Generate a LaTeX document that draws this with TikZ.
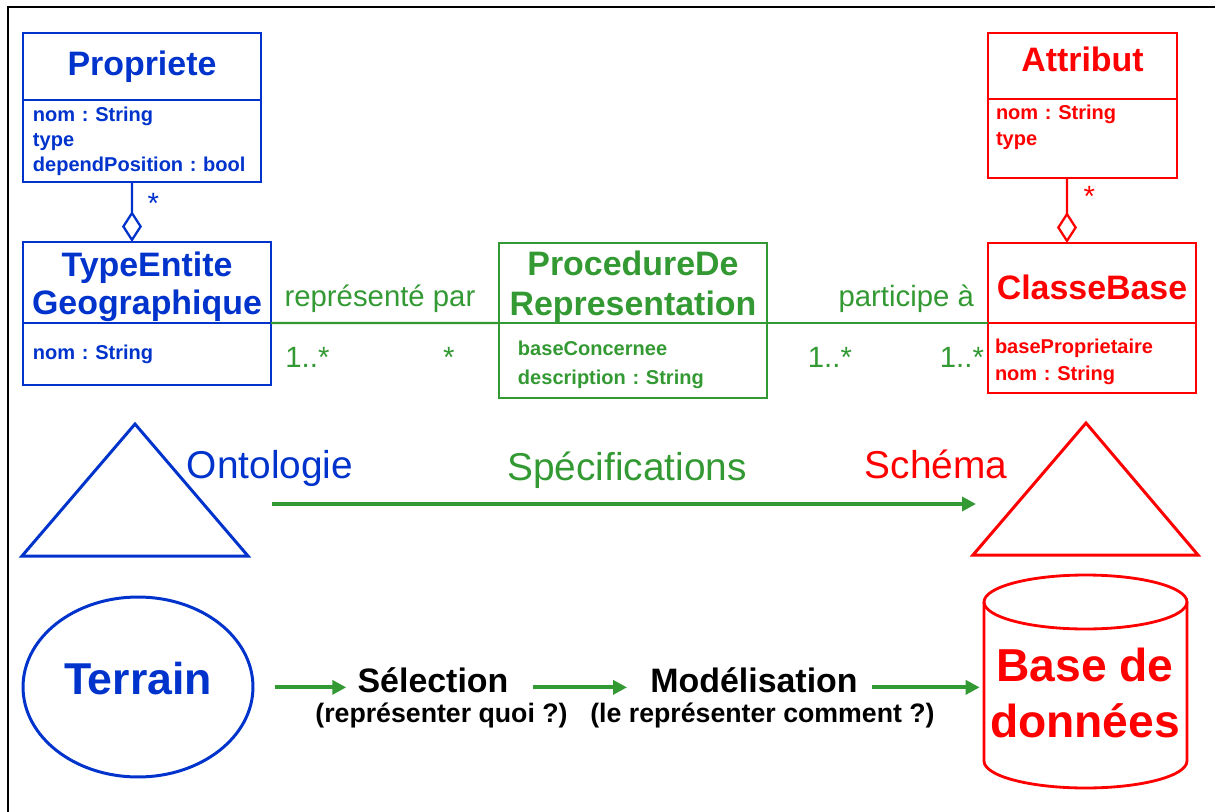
\documentclass[tikz,border=0pt]{standalone}
\usepackage{fontspec}
\setmainfont{Liberation Sans}
\usepackage{tikz}
\usetikzlibrary{shapes.geometric, arrows.meta, positioning}
\definecolor{ublue}{RGB}{0,51,204}
\definecolor{ugreen}{RGB}{51,153,51}
\definecolor{ured}{RGB}{255,0,0}
\frenchspacing

\begin{document}
\begin{tikzpicture}[
    x=0.02cm, y=-0.02cm,
    head/.style={rectangle, draw=#1, text=#1, line width=1.3pt, outer sep=0pt, inner sep=0pt, align=center, text depth=0.14cm, font=\fontsize{19.3}{21.5}\selectfont\bfseries},
    attr/.style={rectangle, draw=#1, text=#1, line width=1.3pt, outer sep=0pt, inner ysep=0pt, align=left, font=\fontsize{11.4}{14.2}\selectfont\bfseries},
    agg/.style={draw=#1, line width=1.3pt, -{Diamond[open, length=0.62cm, width=0.4cm]}},
    assoc/.style={draw=ugreen, line width=1.2pt},
    mult/.style={text=ugreen, inner sep=0pt, font=\fontsize{16.7}{20}\selectfont},
    big/.style={inner sep=0pt, anchor=base, font=\fontsize{22.1}{26}\selectfont},
    stepname/.style={inner sep=0pt, anchor=base, font=\fontsize{19.3}{23}\selectfont\bfseries},
    why/.style={inner sep=0pt, anchor=base, font=\fontsize{15.2}{18}\selectfont\bfseries},
    arr/.style={draw=ugreen, line width=2.4pt, -{Triangle[length=0.28cm, width=0.28cm]}},
]
\useasboundingbox (0,0) rectangle (1215,812);
\draw[line width=0.8pt] (8,812) -- (8,7) -- (1215,7);

% classes
\node[head=ublue, minimum width=4.76cm, minimum height=1.34cm, anchor=north west] (propriete) at (23,33) {Propriete};
\node[attr=ublue, minimum width=4.76cm, minimum height=1.64cm, inner xsep=0.2cm, text width=4.36cm, below=0pt of propriete] (proprieteattr) {nom : String\\type\\dependPosition : bool};

\node[head=ublue, minimum width=4.96cm, minimum height=1.62cm, anchor=north west, text height=1.42cm] (typeentite) at (23,242) {TypeEntite\\Geographique};
\node[attr=ublue, minimum width=4.96cm, minimum height=1.24cm, inner xsep=0.2cm, text width=4.56cm, below=0pt of typeentite] (typeentiteattr) {nom : String};

\node[head=ugreen, minimum width=5.36cm, minimum height=1.6cm, anchor=north west, text height=1.44cm, font=\fontsize{19.3}{22.7}\selectfont\bfseries] (procedure) at (499,243) {ProcedureDe\\Representation};
\node[attr=ugreen, minimum width=5.36cm, minimum height=1.5cm, inner xsep=0.38cm, text width=4.6cm, text height=0.45cm, below=0pt of procedure, font=\fontsize{11.4}{16.4}\selectfont\bfseries] (procedureattr) {baseConcernee\\description : String};

\node[head=ured, minimum width=3.78cm, minimum height=1.32cm, anchor=north west, text height=0.38cm] (attribut) at (988,33) {Attribut};
\node[attr=ured, minimum width=3.78cm, minimum height=1.58cm, inner xsep=0.16cm, text width=3.46cm, text depth=1.04cm, below=0pt of attribut, font=\fontsize{11.4}{14.7}\selectfont\bfseries] (attributattr) {nom : String\\type};

\node[head=ured, minimum width=4.16cm, minimum height=1.6cm, anchor=north west, text height=0.82cm] (classebase) at (988,243) {ClasseBase};
\node[attr=ured, minimum width=4.16cm, minimum height=1.4cm, inner xsep=0.14cm, text width=3.88cm, text height=0.45cm, below=0pt of classebase, font=\fontsize{11.4}{15.3}\selectfont\bfseries] (classebaseattr) {baseProprietaire\\nom : String};

% aggregations
\draw[agg=ublue] ([xshift=-0.2cm]proprieteattr.south) -- node[mult, text=ublue, pos=0.36, right=0.29cm] {*} ([xshift=-0.3cm]typeentite.north);
\draw[agg=ured] ([xshift=-0.31cm]attributattr.south) -- node[mult, text=ured, pos=0.28, right=0.31cm] {*} ([xshift=-0.5cm]classebase.north);

% associations
\draw[assoc] (typeentite.south east) -- node[mult, pos=0.478, above=0.18cm] {représenté par} node[mult, pos=0.16, below=0.46cm] {1..*} node[mult, pos=0.78, below=0.46cm] {*} (procedure.south west);
\draw[assoc] (procedure.south east) -- node[mult, pos=0.63, above=0.18cm] {participe à} node[mult, pos=0.285, below=0.46cm] {1..*} node[mult, pos=0.882, below=0.46cm] {1..*} (classebase.south west);

% ontologie -> schema
\coordinate (ontotop) at (135,424);
\coordinate (ontoleft) at (22,556);
\coordinate (ontoright) at (248,556);
\draw[ublue, line width=1.7pt, line join=miter] (ontotop) -- (ontoright) -- (ontoleft) -- cycle;
\coordinate (schematop) at (1086,423);
\coordinate (schemaleft) at (973,555);
\coordinate (schemaright) at (1198,555);
\draw[ured, line width=1.7pt, line join=miter] (schematop) -- (schemaright) -- (schemaleft) -- cycle;

\node[big, text=ublue] (ontologie) at (270,478) {Ontologie};
\node[big, text=ugreen] (specif) at (627,480) {Spécifications};
\node[big, text=ured] (schema) at (936,478) {Schéma};
\coordinate (specfrom) at (272,504);
\coordinate (specto) at (976,504);
\draw[arr] (specfrom) -- (specto);

% terrain -> base de donnees
\node[ellipse, draw=ublue, text=ublue, line width=1.7pt, minimum width=4.6cm, minimum height=3.6cm, inner sep=0pt, text depth=0.34cm, font=\fontsize{25.4}{30}\selectfont\bfseries] (terrain) at (138,687) {Terrain};
\node[stepname] (selection) at (433,692) {Sélection};
\node[why] (selectionwhy) at (441.5,722) {(représenter quoi ?)};
\node[stepname] (modelisation) at (754,692) {Modélisation};
\node[why] (modelisationwhy) at (762.5,722) {(le représenter comment ?)};

\coordinate (bddtop) at (1085.5,602);
\draw[ured, line width=1.6pt] (bddtop) ellipse [x radius=2.03cm, y radius=0.54cm];
\draw[ured, line width=1.6pt] (984,602) -- (984,761) arc[start angle=180, end angle=360, x radius=2.03cm, y radius=0.54cm] -- (1187,602);
\node[text=ured, inner sep=0pt, align=center, font=\fontsize{26.3}{31.7}\selectfont\bfseries] (bdd) at (1085,693) {Base de\\données};

\draw[arr, shorten <=0.42cm, shorten >=0.22cm] (terrain.east |- selection.mid west) -- (selection.mid west);
\draw[arr, shorten <=0.48cm, shorten >=0.46cm] (selection.mid east) -- (modelisation.mid west);
\draw[arr, shorten <=0.29cm, shorten >=0.2cm] (modelisation.mid east) -- (bdd.west |- modelisation.mid east);
\end{tikzpicture}
\end{document}
